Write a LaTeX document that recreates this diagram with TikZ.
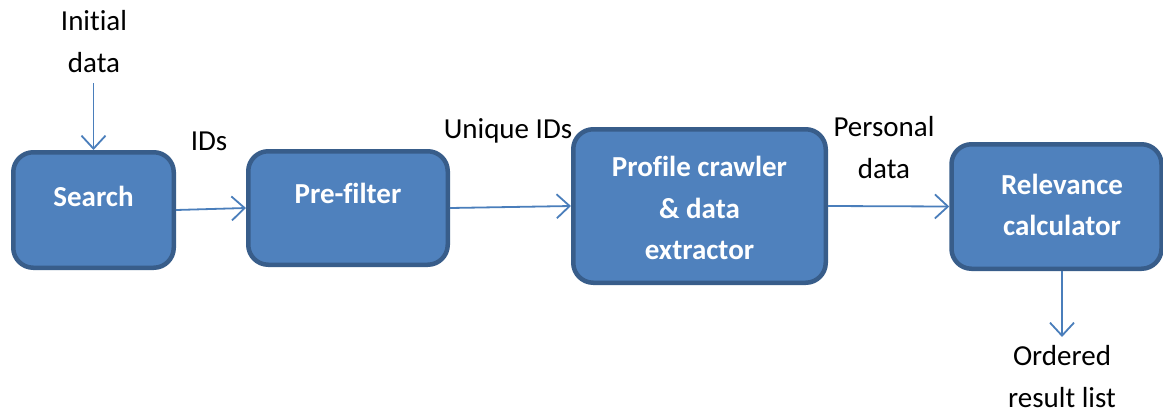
\documentclass[tikz,border=0pt]{standalone}
\usepackage{fontspec}
\setmainfont[Ligatures=NoCommon]{Carlito}
\usetikzlibrary{arrows.meta}
\definecolor{boxfill}{HTML}{4F81BD}
\definecolor{boxline}{HTML}{385D8A}
\definecolor{flow}{HTML}{4A7EBB}

\begin{document}
\begin{tikzpicture}[x=1pt,y=-1pt,
  block/.style={draw=boxline, fill=boxfill, line width=4.5pt,
    rounded corners=20pt, inner sep=0pt},
  blocktext/.style={text=white, font=\fontsize{29}{41.5}\selectfont\bfseries,
    align=center, inner sep=0pt},
  lbl/.style={font=\fontsize{29}{42}\selectfont, align=center, inner sep=0pt},
  flowarrow/.style={draw=flow, line width=1.8pt,
    -{Straight Barb[length=13pt,width=24pt,line width=1.8pt]}}]
  \useasboundingbox (0,0) rectangle (1163,408);

  % processing stages
  \node[block, minimum width=160.5pt, minimum height=115.5pt] (search) at (93.5,210) {};
  \node[blocktext] (searcht) at (93.5,196) {Search};

  \node[block, minimum width=199.5pt, minimum height=113.5pt] (prefilter) at (348,208) {};
  \node[blocktext] (prefiltert) at (348,193) {Pre-filter};

  \node[block, minimum width=252.5pt, minimum height=153.5pt] (crawler) at (699.5,206) {};
  \node[blocktext] (crawlert) at (699.5,208) {Profile crawler\\\& data\\extractor};

  \node[block, minimum width=210pt, minimum height=124.5pt] (relevance) at (1056.5,206.5) {};
  \node[blocktext] (relevancet) at (1062,205) {Relevance\\calculator};

  % input and output ends
  \coordinate (in) at (93.5,83);
  \coordinate (out) at (1062,337);

  % labels
  \node[lbl] (initial) at (94,42) {Initial\\data};
  \node[lbl] (ids) at (209,141) {IDs};
  \node[lbl] (unique) at (508,131) {Unique IDs};
  \node[lbl] (personal) at (884,148) {Personal\\data};
  \node[lbl, anchor=north] (ordered) at (1062,345) {Ordered\\result list};

  % data flow
  \draw[flowarrow] (in) -- (search.north);
  \draw[flowarrow] (search.east) -- (prefilter.west);
  \draw[flowarrow] (prefilter.east) -- (crawler.west);
  \draw[flowarrow] (crawler.east) -- (relevance.west);
  \draw[flowarrow] (relevance.south -| out) -- (out);
\end{tikzpicture}
\end{document}
